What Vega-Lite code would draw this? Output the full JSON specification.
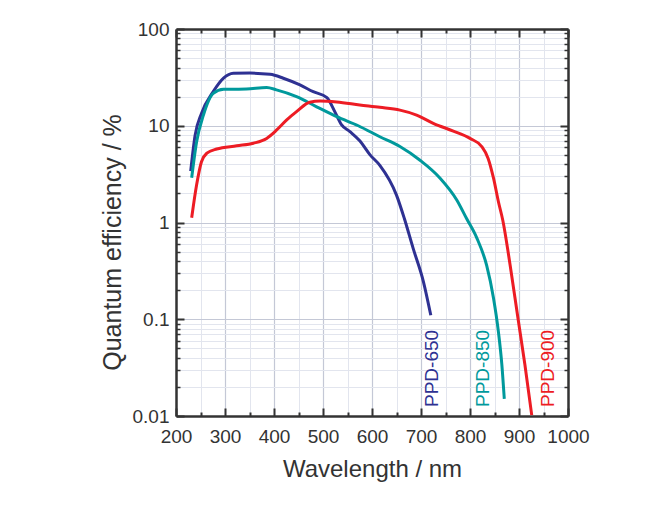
{
  "$schema": "https://vega.github.io/schema/vega-lite/v6.json",
  "width": 392,
  "height": 387,
  "autosize": {"type": "none"},
  "padding": {"left": 176, "top": 29, "right": 92, "bottom": 98},
  "background": "white",
  "config": {
    "font": "Liberation Sans",
    "view": {"stroke": null},
    "axis": {"domainColor": "#333333", "tickColor": "#333333", "labelColor": "#333333", "titleColor": "#333333", "labelFont": "Liberation Sans", "titleFont": "Liberation Sans", "titleFontWeight": "normal", "labelOverlap": false, "labelFlush": false}
  },
  "datasets": {
    "curves": [
      {"s": "PPD-650", "nm": 230, "qe": 3.4},
      {"s": "PPD-650", "nm": 239, "qe": 8.0},
      {"s": "PPD-650", "nm": 252, "qe": 13.4},
      {"s": "PPD-650", "nm": 276, "qe": 22.5},
      {"s": "PPD-650", "nm": 297, "qe": 31},
      {"s": "PPD-650", "nm": 317, "qe": 34.8},
      {"s": "PPD-650", "nm": 351, "qe": 35},
      {"s": "PPD-650", "nm": 392, "qe": 34},
      {"s": "PPD-650", "nm": 419, "qe": 31},
      {"s": "PPD-650", "nm": 453, "qe": 26.4},
      {"s": "PPD-650", "nm": 480, "qe": 22.5},
      {"s": "PPD-650", "nm": 508, "qe": 19.5},
      {"s": "PPD-650", "nm": 524, "qe": 14},
      {"s": "PPD-650", "nm": 538, "qe": 10.2},
      {"s": "PPD-650", "nm": 555, "qe": 8.7},
      {"s": "PPD-650", "nm": 575, "qe": 7.0},
      {"s": "PPD-650", "nm": 596, "qe": 5.0},
      {"s": "PPD-650", "nm": 616, "qe": 3.9},
      {"s": "PPD-650", "nm": 650, "qe": 1.92},
      {"s": "PPD-650", "nm": 666, "qe": 1.1},
      {"s": "PPD-650", "nm": 684, "qe": 0.54},
      {"s": "PPD-650", "nm": 705, "qe": 0.244},
      {"s": "PPD-650", "nm": 720, "qe": 0.11},
      {"s": "PPD-850", "nm": 232, "qe": 2.9},
      {"s": "PPD-850", "nm": 242, "qe": 6.8},
      {"s": "PPD-850", "nm": 256, "qe": 12.9},
      {"s": "PPD-850", "nm": 276, "qe": 21.6},
      {"s": "PPD-850", "nm": 297, "qe": 23.8},
      {"s": "PPD-850", "nm": 344, "qe": 24},
      {"s": "PPD-850", "nm": 385, "qe": 24.8},
      {"s": "PPD-850", "nm": 405, "qe": 23.5},
      {"s": "PPD-850", "nm": 446, "qe": 20},
      {"s": "PPD-850", "nm": 487, "qe": 15.7},
      {"s": "PPD-850", "nm": 528, "qe": 12.4},
      {"s": "PPD-850", "nm": 572, "qe": 10},
      {"s": "PPD-850", "nm": 616, "qe": 7.7},
      {"s": "PPD-850", "nm": 657, "qe": 6.1},
      {"s": "PPD-850", "nm": 698, "qe": 4.4},
      {"s": "PPD-850", "nm": 739, "qe": 2.87},
      {"s": "PPD-850", "nm": 773, "qe": 1.71},
      {"s": "PPD-850", "nm": 793, "qe": 1.1},
      {"s": "PPD-850", "nm": 814, "qe": 0.69},
      {"s": "PPD-850", "nm": 834, "qe": 0.36},
      {"s": "PPD-850", "nm": 848, "qe": 0.165},
      {"s": "PPD-850", "nm": 858, "qe": 0.074},
      {"s": "PPD-850", "nm": 865, "qe": 0.034},
      {"s": "PPD-850", "nm": 870, "qe": 0.015},
      {"s": "PPD-900", "nm": 232, "qe": 1.12},
      {"s": "PPD-900", "nm": 242, "qe": 2.44},
      {"s": "PPD-900", "nm": 252, "qe": 4.25},
      {"s": "PPD-900", "nm": 263, "qe": 5.2},
      {"s": "PPD-900", "nm": 283, "qe": 5.75},
      {"s": "PPD-900", "nm": 324, "qe": 6.2},
      {"s": "PPD-900", "nm": 358, "qe": 6.6},
      {"s": "PPD-900", "nm": 385, "qe": 7.4},
      {"s": "PPD-900", "nm": 405, "qe": 9.0},
      {"s": "PPD-900", "nm": 426, "qe": 11.5},
      {"s": "PPD-900", "nm": 446, "qe": 14},
      {"s": "PPD-900", "nm": 473, "qe": 17.5},
      {"s": "PPD-900", "nm": 494, "qe": 18},
      {"s": "PPD-900", "nm": 528, "qe": 17.6},
      {"s": "PPD-900", "nm": 575, "qe": 16.4},
      {"s": "PPD-900", "nm": 616, "qe": 15.5},
      {"s": "PPD-900", "nm": 657, "qe": 14.5},
      {"s": "PPD-900", "nm": 691, "qe": 12.9},
      {"s": "PPD-900", "nm": 725, "qe": 10.6},
      {"s": "PPD-900", "nm": 766, "qe": 8.8},
      {"s": "PPD-900", "nm": 800, "qe": 7.4},
      {"s": "PPD-900", "nm": 824, "qe": 6.1},
      {"s": "PPD-900", "nm": 837, "qe": 4.6},
      {"s": "PPD-900", "nm": 848, "qe": 2.87},
      {"s": "PPD-900", "nm": 858, "qe": 1.64},
      {"s": "PPD-900", "nm": 867, "qe": 1.05},
      {"s": "PPD-900", "nm": 882, "qe": 0.36},
      {"s": "PPD-900", "nm": 897, "qe": 0.11},
      {"s": "PPD-900", "nm": 912, "qe": 0.034},
      {"s": "PPD-900", "nm": 926, "qe": 0.0102}
    ],
    "labels": [
      {"s": "PPD-650", "nm": 722, "qe": 0.031},
      {"s": "PPD-850", "nm": 826, "qe": 0.031},
      {"s": "PPD-900", "nm": 959, "qe": 0.031}
    ]
  },
  "data": {"name": "curves"},
  "layer": [
    {
      "mark": {"type": "line", "opacity": 0},
      "encoding": {
        "x": {"field": "nm", "type": "quantitative", "scale": {"domain": [200, 1000], "nice": false, "zero": false},
          "axis": {"orient": "bottom", "values": [200, 300, 400, 500, 600, 700, 800, 900, 1000], "format": "d", "grid": true, "gridColor": "#c4c8d6", "gridWidth": 1.2, "tickSize": -8, "tickWidth": 2, "domainWidth": 2.5, "labelFontSize": 19, "labelPadding": 19, "title": "Wavelength / nm", "titleFontSize": 24, "titlePadding": 11}},
        "y": {"field": "qe", "type": "quantitative", "scale": {"type": "log", "domain": [0.01, 100], "nice": false},
          "axis": {"orient": "left", "values": [0.01, 0.1, 1, 10, 100], "format": "~g", "grid": true, "gridColor": "#c4c8d6", "gridWidth": 1.2, "tickSize": -8, "tickWidth": 2, "domainWidth": 2.5, "labelFontSize": 19, "labelPadding": 15, "title": "Quantum efficiency /  %", "titleFontSize": 25, "titlePadding": 7, "titleY": 213}}
      }
    },
    {
      "mark": {"type": "line", "opacity": 0},
      "encoding": {
        "x": {"field": "nm", "type": "quantitative",
          "axis": {"orient": "bottom", "values": [250, 350, 450, 550, 650, 750, 850, 950], "grid": true, "gridColor": "#e2e5ee", "gridWidth": 1, "tickSize": -4, "tickWidth": 2, "domain": false, "labels": false, "title": null}},
        "y": {"field": "qe", "type": "quantitative",
          "axis": {"orient": "left", "values": [0.02, 0.03, 0.04, 0.05, 0.06, 0.07, 0.08, 0.09, 0.2, 0.3, 0.4, 0.5, 0.6, 0.7, 0.8, 0.9, 2, 3, 4, 5, 6, 7, 8, 9, 20, 30, 40, 50, 60, 70, 80, 90], "grid": true, "gridColor": "#e2e5ee", "gridWidth": 1, "tickSize": -4, "tickWidth": 1.5, "domain": false, "labels": false, "title": null}}
      }
    },
    {
      "mark": {"type": "line", "opacity": 0},
      "encoding": {
        "x": {"field": "nm", "type": "quantitative",
          "axis": {"orient": "top", "values": [200, 300, 400, 500, 600, 700, 800, 900, 1000], "grid": false, "tickSize": -8, "tickWidth": 2, "domainWidth": 2.5, "labels": false, "title": null}},
        "y": {"field": "qe", "type": "quantitative",
          "axis": {"orient": "right", "values": [0.01, 0.1, 1, 10, 100], "grid": false, "tickSize": -8, "tickWidth": 2, "domainWidth": 2.5, "labels": false, "title": null}}
      }
    },
    {
      "mark": {"type": "line", "opacity": 0},
      "encoding": {
        "x": {"field": "nm", "type": "quantitative",
          "axis": {"orient": "top", "values": [250, 350, 450, 550, 650, 750, 850, 950], "grid": false, "tickSize": -4, "tickWidth": 2, "domain": false, "labels": false, "title": null}},
        "y": {"field": "qe", "type": "quantitative",
          "axis": {"orient": "right", "values": [0.02, 0.03, 0.04, 0.05, 0.06, 0.07, 0.08, 0.09, 0.2, 0.3, 0.4, 0.5, 0.6, 0.7, 0.8, 0.9, 2, 3, 4, 5, 6, 7, 8, 9, 20, 30, 40, 50, 60, 70, 80, 90], "grid": false, "tickSize": -4, "tickWidth": 1.5, "domain": false, "labels": false, "title": null}}
      }
    },
    {
      "mark": {"type": "line", "strokeWidth": 3, "interpolate": "monotone"},
      "encoding": {
        "x": {"field": "nm", "type": "quantitative", "axis": null},
        "y": {"field": "qe", "type": "quantitative", "axis": null},
        "color": {"field": "s", "type": "nominal", "scale": {"domain": ["PPD-650", "PPD-850", "PPD-900"], "range": ["#2e3192", "#00999c", "#ed1c24"]}, "legend": null}
      }
    },
    {
      "data": {"name": "labels"},
      "mark": {"type": "text", "angle": 270, "align": "center", "baseline": "middle", "fontSize": 19, "font": "Liberation Sans"},
      "encoding": {
        "x": {"field": "nm", "type": "quantitative", "axis": null},
        "y": {"field": "qe", "type": "quantitative", "axis": null},
        "text": {"field": "s"},
        "color": {"field": "s", "type": "nominal"}
      }
    }
  ],
  "resolve": {"axis": {"x": "independent", "y": "independent"}}
}
